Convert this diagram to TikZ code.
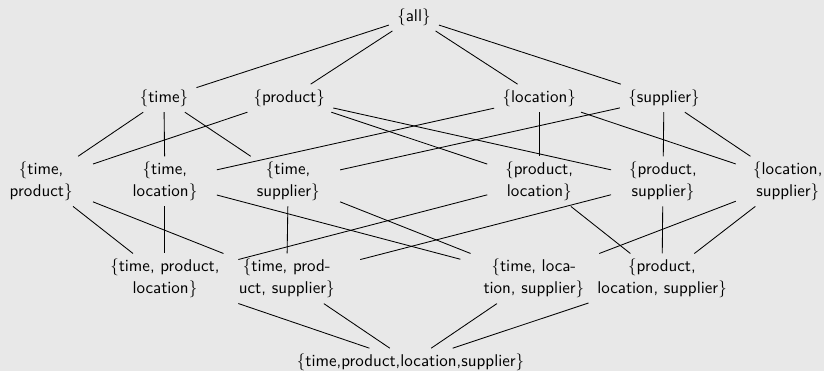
\documentclass[tikz,border=0pt]{standalone}
\usepackage{tikz}
\usetikzlibrary{arrows}
\definecolor{bggray}{RGB}{232,232,232}

\begin{document}
\begin{tikzpicture}[
    every node/.style = {font = \sffamily\fontsize{10}{13}\selectfont,
      align = center, inner xsep = 4.7pt, inner ysep = 3pt},
    pair/.style = {minimum width = 2.13cm},
    triple/.style = {minimum width = 3.02cm},
    line width = 0.5pt]

  \useasboundingbox (0, 0) rectangle (17.04, -7.67);
  \fill[bggray] (0, 0) rectangle (17.04, -7.67);

  % apex of the lattice
  \node (all) at (8.56, -0.35) {\{all\}};

  % single dimensions
  \node (t) at ( 3.39, -2.03) {\{time\}};
  \node (p) at ( 5.98, -2.03) {\{product\}};
  \node (l) at (11.15, -2.03) {\{location\}};
  \node (s) at (13.73, -2.03) {\{supplier\}};

  % pairs
  \node[pair] (tp) at ( 0.85, -3.75) {\{time,\\product\}};
  \node[pair] (tl) at ( 3.41, -3.75) {\{time,\\location\}};
  \node[pair] (ts) at ( 5.96, -3.75) {\{time,\\supplier\}};
  \node[pair] (pl) at (11.15, -3.75) {\{product,\\location\}};
  \node[pair] (ps) at (13.71, -3.75) {\{product,\\supplier\}};
  \node[pair] (ls) at (16.29, -3.75) {\{location,\\supplier\}};

  % triples
  \node[triple] (tpl) at ( 3.41, -5.76) {\{time, product,\\location\}};
  \node[triple] (tps) at ( 5.93, -5.76) {\{time, prod-\\uct, supplier\}};
  \node[triple] (tls) at (11.04, -5.76) {\{time, loca-\\tion, supplier\}};
  \node[triple] (pls) at (13.69, -5.76) {\{product,\\location, supplier\}};

  % base of the lattice
  \node (tpls) at (8.49, -7.49) {\{time,product,location,supplier\}};

  % edges from the apex
  \draw (all) -- (t);
  \draw (all) -- (p);
  \draw (all) -- (l);
  \draw (all) -- (s);

  % edges down to the pairs
  \draw (t) -- (tp);
  \draw (t) -- (tl);
  \draw (t) -- (ts);
  \draw (p) -- (tp);
  \draw (p) -- (pl);
  \draw (p) -- (ps);
  \draw (l) -- (tl);
  \draw (l) -- (pl);
  \draw (l) -- (ls);
  \draw (s) -- (ts);
  \draw (s) -- (ps);
  \draw (s) -- (ls);

  % edges down to the triples
  \draw (tp) -- (tpl);
  \draw (tp) -- (tps);
  \draw (tl) -- (tpl);
  \draw (tl) -- (tls);
  \draw (ts) -- (tps);
  \draw (ts) -- (tls);
  \draw (pl) -- (tpl);
  \draw (pl) -- (pls);
  \draw (ps) -- (tps);
  \draw (ps) -- (pls);
  \draw (ls) -- (tls);
  \draw (ls) -- (pls);

  % edges down to the base
  \draw (tpl) -- (tpls);
  \draw (tps) -- (tpls);
  \draw (tls) -- (tpls);
  \draw (pls) -- (tpls);

\end{tikzpicture}
\end{document}
